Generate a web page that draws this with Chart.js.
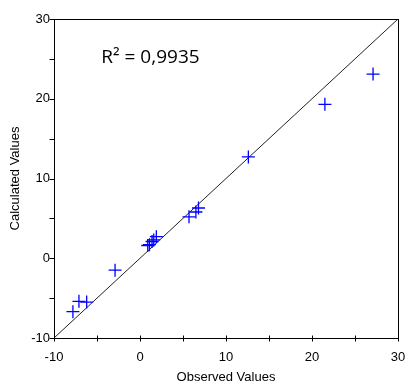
<!DOCTYPE html>
<html>
<head>
<meta charset="utf-8">
<script src="https://cdn.jsdelivr.net/npm/chart.js@4"></script>
<style>
    html, body { margin: 0; padding: 0; background: #fff; }
    #wrap { width: 407px; height: 385px; }
</style>
</head>
<body>
<div id="wrap"><canvas id="chart"></canvas></div>
<script>
// observed vs calculated values
const observed   = [27.1, 21.5, 12.6, 6.8, 6.5, 5.7, 1.9, 1.6, 1.4, 1.1, 0.9, -2.9, -6.2, -7.1, -7.8];
const calculated = [23.1, 19.3, 12.7, 6.3, 5.8, 5.2, 2.7, 2.3, 2.1, 1.7, 1.6, -1.5, -5.5, -5.4, -6.7];
const identityLine = [-10, 30];
const xTicks = [-10, -5, 0, 5, 10, 15, 20, 25, 30];
const yTicks = [-10, -5, 0, 5, 10, 15, 20, 25, 30];
const r2Label = 'R\u00B2 = 0,9935';

const axisFont = { family: '"Liberation Sans", Arial, sans-serif', size: 13 };

// frame around plot, tick marks, R² annotation
const framePlugin = {
    id: 'frame',
    afterDatasetsDraw(chart) {
        const { ctx, chartArea: a, scales } = chart;
        const left = Math.round(a.left) + 0.5;
        const top = Math.round(a.top) + 0.5;
        const right = Math.round(a.right) + 0.5;
        const bottom = Math.round(a.bottom) + 0.5;
        ctx.save();
        ctx.strokeStyle = '#000';
        ctx.lineWidth = 1;
        ctx.strokeRect(left, top, right - left, bottom - top);

        ctx.beginPath();
        yTicks.forEach(v => {
            const py = Math.round(scales.y.getPixelForValue(v)) + 0.5;
            ctx.moveTo(left - 5, py);
            ctx.lineTo(left, py);
        });
        xTicks.forEach(v => {
            const px = Math.round(scales.x.getPixelForValue(v)) + 0.5;
            ctx.moveTo(px, bottom - 3);
            ctx.lineTo(px, bottom + 3);
        });
        ctx.stroke();

        ctx.fillStyle = '#000';
        ctx.font = '19px "Open Sans", sans-serif';
        ctx.textBaseline = 'middle';
        ctx.fillText(r2Label, scales.x.getPixelForValue(-4.5), scales.y.getPixelForValue(25.1));
        ctx.restore();
    }
};

const majorOnly = v => (v % 10 === 0 ? String(v) : '');

new Chart(document.getElementById('chart'), {
    type: 'scatter',
    data: {
        datasets: [
            {
                data: observed.map((x, i) => ({ x, y: calculated[i] })),
                pointStyle: 'cross',
                pointRadius: 6.5,
                pointHoverRadius: 6.5,
                borderColor: '#0000ff',
                backgroundColor: '#0000ff',
                pointBorderWidth: 1.3
            },
            {
                type: 'line',
                data: identityLine.map(v => ({ x: v, y: v })),
                borderColor: '#222',
                borderWidth: 1,
                pointRadius: 0
            }
        ]
    },
    options: {
        responsive: true,
        maintainAspectRatio: false,
        animation: false,
        layout: { padding: { left: 0, right: 9, top: 19, bottom: 0 } },
        plugins: { legend: { display: false }, tooltip: { enabled: false } },
        scales: {
            x: {
                type: 'linear',
                min: -10,
                max: 30,
                afterBuildTicks: s => { s.ticks = xTicks.map(value => ({ value })); },
                afterFit: s => { s.height = 47; s.paddingLeft = 0; s.paddingRight = 0; },
                grid: { display: false, drawTicks: false },
                border: { display: false },
                ticks: { callback: majorOnly, color: '#000', font: axisFont, padding: 12, maxRotation: 0, autoSkip: false },
                title: { display: true, text: 'Observed Values', color: '#000', font: axisFont, padding: { top: 0, bottom: 0 } }
            },
            y: {
                type: 'linear',
                min: -10,
                max: 30,
                afterBuildTicks: s => { s.ticks = yTicks.map(value => ({ value })); },
                afterFit: s => { s.width = 54; s.paddingTop = 0; s.paddingBottom = 0; },
                grid: { display: false, drawTicks: false },
                border: { display: false },
                ticks: { callback: majorOnly, color: '#000', font: axisFont, padding: 4, autoSkip: false },
                title: { display: true, text: 'Calculated Values', color: '#000', font: axisFont, padding: { top: 8, bottom: 0 } }
            }
        }
    },
    plugins: [framePlugin]
});
</script>
</body>
</html>
